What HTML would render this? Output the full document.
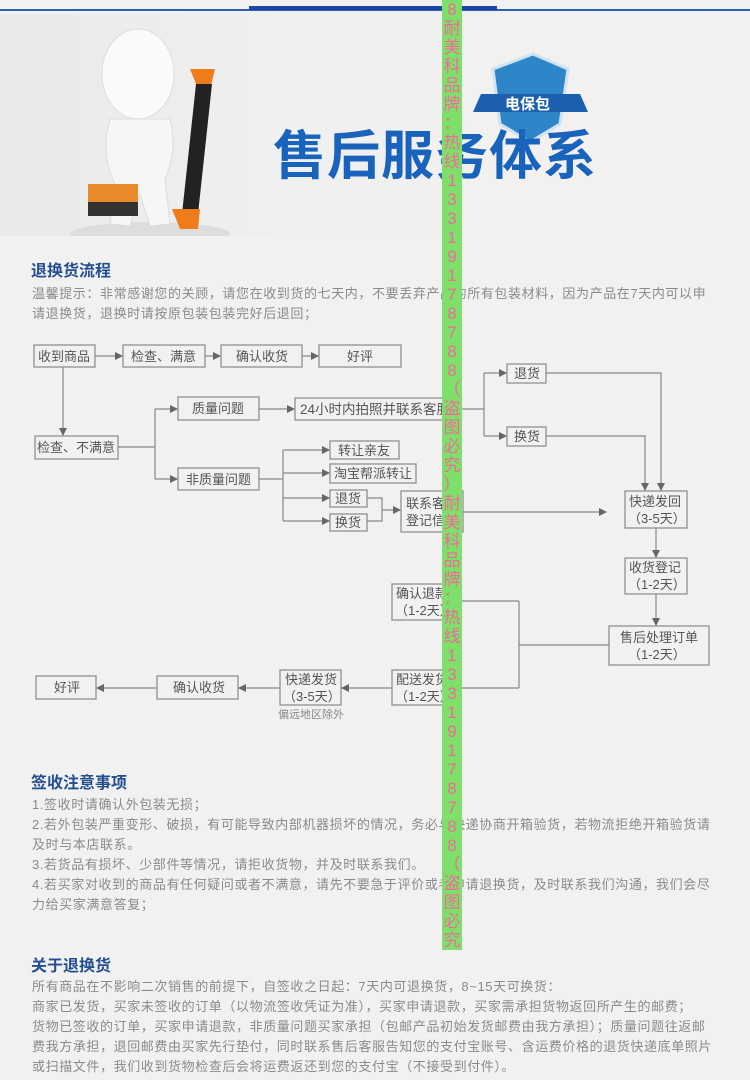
<!DOCTYPE html>
<html><head><meta charset="utf-8">
<style>
*{margin:0;padding:0}
body{width:750px;height:1080px;background:#f1f1f1;position:relative;overflow:hidden;font-family:"Liberation Sans","Noto Sans CJK SC",sans-serif}
.abs{position:absolute}
.h{position:absolute;left:31px;font-size:16px;font-weight:bold;color:#244f8e}
.p{position:absolute;left:32px;font-size:13px;color:#8a8a8a;line-height:20px;white-space:nowrap;letter-spacing:0.6px}
</style></head><body>
<div class="abs" style="left:0;top:9px;width:750px;height:2px;background:#2d5fae"></div>
<div class="abs" style="left:249px;top:6px;width:248px;height:4px;background:#1b47a3"></div>
<div class="abs" style="left:0;top:14px;width:750px;height:222px;background:linear-gradient(90deg,#e9e9e9,#f0f0f0 40%,#f3f2f0)"></div>
<svg class="abs" style="left:0;top:14px" width="750" height="222">
 <ellipse cx="150" cy="300" rx="80" ry="12" fill="#ddd" transform="translate(0,-80)"/>
 <ellipse cx="138" cy="60" rx="36" ry="45" fill="#fafafa" stroke="#ddd"/>
 <path d="M110 105 Q100 140 115 170 L110 210 L130 212 L140 180 L150 212 L170 210 L165 165 Q178 135 170 105 Z" fill="#f6f6f6" stroke="#ddd"/>
 <path d="M190 55 L215 55 L210 75 L198 75 Z" fill="#f07b1a"/>
 <path d="M196 70 L212 70 L198 200 L182 200 Z" fill="#222"/>
 <path d="M172 195 L200 195 L198 215 L180 215 Z" fill="#f07b1a"/>
 <rect x="88" y="170" width="50" height="32" fill="#e9892a"/>
 <rect x="88" y="188" width="50" height="14" fill="#333"/>
 <path d="M493 55 L533 40 L568 55 L560 110 L530 128 L500 110 Z" fill="#2e86c9" stroke="#cfe3f2" stroke-width="3"/>
 <path d="M481 80 L580 80 L588 98 L473 98 Z" fill="#1b5fae"/>
 <text x="505" y="95" font-size="15" font-weight="bold" fill="#fff" font-family="Liberation Sans,Noto Sans CJK SC,sans-serif">电保包</text>
 <text x="273" y="160" font-size="53" font-weight="bold" fill="#1a63bd" font-family="Noto Sans CJK SC,sans-serif" letter-spacing="1">售后服务体系</text>
</svg>
<div class="h" style="top:257px">退换货流程</div>
<div class="p" style="top:284px">温馨提示：非常感谢您的关顾，请您在收到货的七天内，不要丢弃产品的所有包装材料，因为产品在7天内可以申<br>请退换货，退换时请按原包装包装完好后退回；</div>

<svg class="abs" style="left:0;top:0" width="750" height="740" font-family="Liberation Sans,Noto Sans CJK SC,sans-serif" font-size="13" fill="#555">
<defs><marker id="a" markerWidth="8" markerHeight="8" refX="7" refY="4" orient="auto" markerUnits="userSpaceOnUse"><path d="M0,0 L8,4 L0,8Z" fill="#666"/></marker></defs>
<g fill="none" stroke="#888" stroke-width="1.2">
<rect x="34" y="345" width="61" height="22"/><rect x="123" y="345" width="82" height="22"/><rect x="221" y="345" width="81" height="22"/><rect x="319" y="345" width="82" height="22"/>
<rect x="35" y="436" width="83" height="23"/><rect x="178" y="397" width="81" height="23"/><rect x="295" y="398" width="148" height="22"/>
<rect x="507" y="364" width="39" height="19"/><rect x="507" y="427" width="39" height="19"/>
<rect x="178" y="468" width="81" height="22"/>
<rect x="330" y="441" width="69" height="18"/><rect x="330" y="464" width="86" height="19"/><rect x="330" y="490" width="37" height="17"/><rect x="330" y="514" width="37" height="17"/>
<rect x="401" y="491" width="62" height="41"/>
<rect x="625" y="491" width="62" height="37"/><rect x="625" y="558" width="62" height="36"/><rect x="609" y="626" width="100" height="39"/>
<rect x="392" y="584" width="60" height="36"/><rect x="392" y="670" width="60" height="35"/><rect x="280" y="670" width="61" height="35"/>
<rect x="157" y="676" width="81" height="23"/><rect x="36" y="676" width="60" height="23"/>
</g>
<g fill="none" stroke="#888" stroke-width="1.2" marker-end="url(#a)">
<path d="M95 356H122"/><path d="M205 356H220"/><path d="M302 356H318"/>
<path d="M63 367V435"/>
<path d="M155 409H177"/><path d="M155 479H177"/>
<path d="M259 409H294"/>
<path d="M484 373H506"/><path d="M484 436H506"/>
<path d="M546 373H661V490"/><path d="M546 436H645V490"/>
<path d="M283 450H329"/><path d="M283 473H329"/><path d="M283 498H329"/><path d="M283 521H329"/>
<path d="M382 510H400"/>
<path d="M463 512H606"/>
<path d="M656 528V557"/><path d="M656 594V625"/>
<path d="M519 601H453"/><path d="M519 688H453"/>
<path d="M392 688H342"/><path d="M280 688H239"/><path d="M157 688H97"/>
</g>
<g fill="none" stroke="#888" stroke-width="1.2">
<path d="M118 447H155V409M155 447V479"/>
<path d="M443 409H484V373M484 409V436"/>
<path d="M259 479H283V450M283 479V521"/>
<path d="M367 498H382V521H367"/>
<path d="M609 645H519V601M519 645V688"/>
</g>
<text x="38" y="361">收到商品</text><text x="131" y="361">检查、满意</text><text x="236" y="361">确认收货</text><text x="347" y="361">好评</text>
<text x="37" y="452">检查、不满意</text><text x="192" y="413">质量问题</text><text x="300" y="414" font-size="13.5">24小时内拍照并联系客服</text>
<text x="514" y="378">退货</text><text x="514" y="441">换货</text>
<text x="186" y="484">非质量问题</text>
<text x="338" y="455">转让亲友</text><text x="334" y="478">淘宝帮派转让</text><text x="335" y="503">退货</text><text x="335" y="527">换货</text>
<text x="406" y="508">联系客服</text><text x="406" y="525">登记信息</text>
<text x="629" y="506">快递发回</text><text x="628" y="523">（3-5天）</text>
<text x="629" y="572">收货登记</text><text x="628" y="589">（1-2天）</text>
<text x="620" y="642">售后处理订单</text><text x="628" y="659">（1-2天）</text>
<text x="396" y="598">确认退款</text><text x="395" y="615">（1-2天）</text>
<text x="396" y="684">配送发货</text><text x="395" y="701">（1-2天）</text>
<text x="285" y="684">快递发货</text><text x="283" y="701">（3-5天）</text>
<text x="173" y="692">确认收货</text><text x="54" y="692">好评</text>
<text x="278" y="718" font-size="11" fill="#888">偏远地区除外</text>
</svg>

<div class="h" style="top:769px">签收注意事项</div>
<div class="p" style="top:795px">1.签收时请确认外包装无损；<br>2.若外包装严重变形、破损，有可能导致内部机器损坏的情况，务必与快递协商开箱验货，若物流拒绝开箱验货请<br>及时与本店联系。<br>3.若货品有损坏、少部件等情况，请拒收货物，并及时联系我们。<br>4.若买家对收到的商品有任何疑问或者不满意，请先不要急于评价或者申请退换货，及时联系我们沟通，我们会尽<br>力给买家满意答复；</div>
<div class="h" style="top:952px">关于退换货</div>
<div class="p" style="top:977px">所有商品在不影响二次销售的前提下，自签收之日起：7天内可退换货，8~15天可换货：<br>商家已发货，买家未签收的订单（以物流签收凭证为准），买家申请退款，买家需承担货物返回所产生的邮费；<br>货物已签收的订单，买家申请退款，非质量问题买家承担（包邮产品初始发货邮费由我方承担）；质量问题往返邮<br>费我方承担，退回邮费由买家先行垫付，同时联系售后客服告知您的支付宝账号、含运费价格的退货快递底单照片<br>或扫描文件，我们收到货物检查后会将运费返还到您的支付宝（不接受到付件）。</div>

<div class="abs" style="left:442px;top:0;width:20px;height:950px;background:#7ee06a;color:#f06b9a;font-size:17px;line-height:19px;text-align:center;overflow:hidden;font-family:'Liberation Sans','Noto Sans CJK SC',sans-serif">
8<br>耐<br>美<br>科<br>品<br>牌<br>：<br>热<br>线<br>1<br>3<br>3<br>1<br>9<br>1<br>7<br>8<br>7<br>8<br>8<br>（<br>盗<br>图<br>必<br>究<br>）<br>耐<br>美<br>科<br>品<br>牌<br>：<br>热<br>线<br>1<br>3<br>3<br>1<br>9<br>1<br>7<br>8<br>7<br>8<br>8<br>（<br>盗<br>图<br>必<br>究<br>）<br>耐
</div>
</body></html>
